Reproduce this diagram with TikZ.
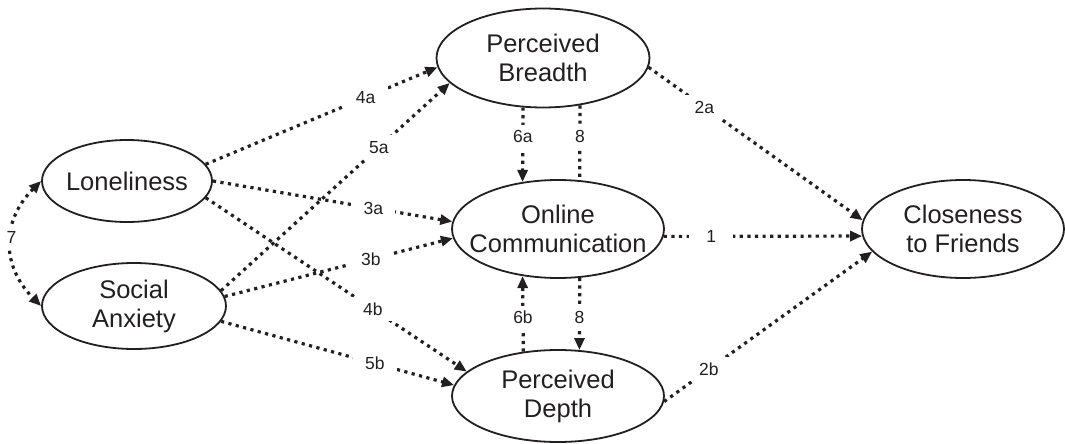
\documentclass[tikz,border=0pt]{standalone}
\usepackage{fontspec}
\setmainfont{Liberation Sans}
\usetikzlibrary{arrows.meta,shapes.geometric}
\definecolor{ink}{RGB}{35,31,32}
\begin{document}
\begin{tikzpicture}[x=1pt,y=-1pt,
  latent/.style={ellipse,draw=ink,line width=1.8pt,inner xsep=-15pt,inner ysep=0pt,align=center,text=ink,font=\fontsize{25.5}{29}\selectfont},
  pathline/.style={draw=ink,line width=3.2pt,dash pattern=on 3.2pt off 4.4pt},
  patharrow/.style={pathline,-{Triangle[length=12pt,width=10pt]}},
  lbl/.style={fill=white,text=ink,font=\fontsize{17.5}{20}\selectfont,minimum width=44pt,minimum height=24pt,inner sep=0pt}
]
\useasboundingbox (0,0) rectangle (1065,444);

\node[latent,minimum width=170pt,minimum height=82pt] (lone) at (127,181) {Loneliness};
\node[latent,minimum width=184pt,minimum height=86pt] (soc) at (134,306) {Social\\Anxiety};
\node[latent,minimum width=213pt,minimum height=99pt] (bre) at (543,58) {Perceived\\Breadth};
\node[latent,minimum width=212pt,minimum height=98pt] (onl) at (558,229) {Online\\Communication};
\node[latent,minimum width=212pt,minimum height=92pt] (dep) at (558,396) {Perceived\\Depth};
\node[latent,minimum width=202pt,minimum height=98pt] (clo) at (963,229) {Closeness\\to Friends};

% left block
\draw[patharrow] (lone.12) -- node[lbl,pos=.69]{4a} (bre.185);
\draw[patharrow] (soc.10) -- node[lbl,pos=.69]{5a} (bre.195);
\draw[patharrow] (lone.0) -- node[lbl,pos=.67]{3a} (onl.176);
\draw[patharrow] (soc.6) -- node[lbl,pos=.64]{3b} (onl.185);
\draw[patharrow] (lone.-12) -- node[lbl,pos=.64]{4b} (dep.165);
\draw[patharrow] (soc.-10) -- node[lbl,pos=.66]{5b} (dep.174);

% covariance
\draw[pathline,{Triangle[length=12pt,width=10pt]}-{Triangle[length=12pt,width=10pt]}]
  (lone.west) .. controls +(-40,40) and +(-40,-40) .. node[lbl,pos=.45,minimum width=14pt]{7} (soc.west);

% vertical paths
\draw[patharrow] (bre.-112.2) -- node[lbl,pos=.39]{6a} (onl.127.1);
\draw[pathline] (bre.-52.5) -- node[lbl,pos=.41]{8} (onl.66.4);
\draw[patharrow] (dep.128.9) -- node[lbl,pos=.45]{6b} (onl.-127.1);
\draw[patharrow] (onl.-66.4) -- node[lbl,pos=.55]{8} (dep.65);

% right block
\draw[patharrow] (bre.-5) -- node[lbl,pos=.26]{2a} (clo.175);
\draw[patharrow] (onl.-4) -- node[lbl,pos=.24]{1} (clo.184);
\draw[patharrow] (dep.-3) -- node[lbl,pos=.215]{2b} (clo.194.6);
\end{tikzpicture}
\end{document}
